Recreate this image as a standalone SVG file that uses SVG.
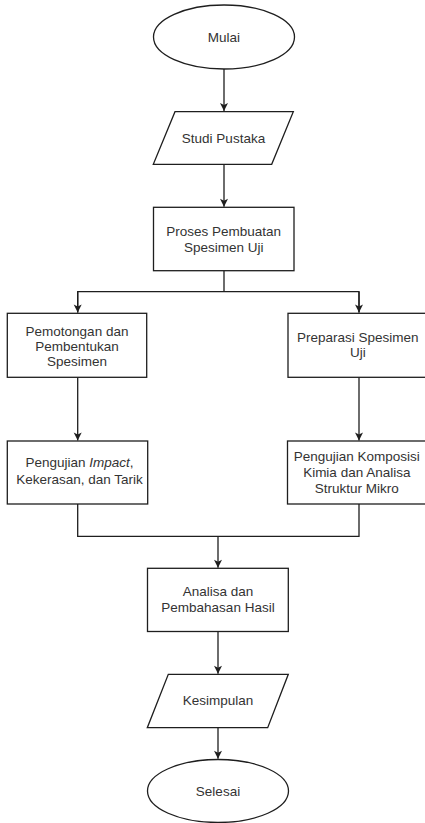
<svg xmlns="http://www.w3.org/2000/svg" width="425" height="823" viewBox="0 0 425 823">
<style>
.s{fill:#ffffff;stroke:#1e1e1e;stroke-width:1.3}
.c{fill:none;stroke:#1e1e1e;stroke-width:1.3}
.t{font-family:"Liberation Sans",Arial,sans-serif;font-size:13.5px;fill:#333333;text-anchor:middle}
</style>
<defs>
<marker id="ah" markerUnits="userSpaceOnUse" markerWidth="10" markerHeight="10" viewBox="0 0 10 10" refX="9" refY="5" orient="auto">
<path d="M1,1 L9,5 L1,9 L3,5 z" fill="#1e1e1e"/>
</marker>
</defs>
<rect width="425" height="823" fill="#ffffff"/>
<g id="connectors">
<line class="c" x1="224" y1="69" x2="224" y2="111" marker-end="url(#ah)"/>
<line class="c" x1="224" y1="164.3" x2="224" y2="206.8" marker-end="url(#ah)"/>
<polyline class="c" points="224,270.7 224,291.7"/>
<polyline class="c" points="77.7,312.5 77.7,291.7 359,291.7 359,312.5"/>
<line class="c" x1="77.7" y1="291.7" x2="77.7" y2="312.6" marker-end="url(#ah)"/>
<line class="c" x1="359" y1="291.7" x2="359" y2="312.6" marker-end="url(#ah)"/>
<line class="c" x1="77.7" y1="377.3" x2="77.7" y2="440.6" marker-end="url(#ah)"/>
<line class="c" x1="359" y1="377.3" x2="359" y2="440.6" marker-end="url(#ah)"/>
<polyline class="c" points="77.7,504 77.7,536.3 359,536.3 359,504"/>
<line class="c" x1="218" y1="536.3" x2="218" y2="567.8" marker-end="url(#ah)"/>
<line class="c" x1="218" y1="631.5" x2="218" y2="673.8" marker-end="url(#ah)"/>
<line class="c" x1="218" y1="727.7" x2="218" y2="758.8" marker-end="url(#ah)"/>
</g>
<g id="mulai">
<ellipse class="s" cx="224" cy="37" rx="70.5" ry="32"/>
<text class="t" x="224" y="41.7">Mulai</text>
</g>
<g id="studi-pustaka">
<polygon class="s" points="175,111.7 293.3,111.7 271.7,164.3 153.3,164.3"/>
<text class="t" x="223.5" y="142.7">Studi Pustaka</text>
</g>
<g id="proses">
<rect class="s" x="153.5" y="207.3" width="140.5" height="63.4"/>
<text class="t" x="223.7" y="236">Proses Pembuatan</text>
<text class="t" x="223.7" y="251.5">Spesimen Uji</text>
</g>
<g id="pemotongan">
<rect class="s" x="7.3" y="313.3" width="139.4" height="64"/>
<text class="t" x="77" y="336.3">Pemotongan dan</text>
<text class="t" x="77" y="351">Pembentukan</text>
<text class="t" x="77" y="365.7">Spesimen</text>
</g>
<g id="preparasi">
<rect class="s" x="288" y="313.3" width="142" height="64"/>
<text class="t" x="357.8" y="341.7">Preparasi Spesimen</text>
<text class="t" x="357.8" y="357.3">Uji</text>
</g>
<g id="pengujian-impact">
<rect class="s" x="7.3" y="441" width="140.4" height="63"/>
<text class="t" x="79.5" y="467.3">Pengujian <tspan font-style="italic">Impact</tspan>,</text>
<text class="t" x="79.5" y="484">Kekerasan, dan Tarik</text>
</g>
<g id="pengujian-komposisi">
<rect class="s" x="287.5" y="441" width="142" height="63"/>
<text class="t" x="356.8" y="460.7">Pengujian Komposisi</text>
<text class="t" x="356.8" y="476.7">Kimia dan Analisa</text>
<text class="t" x="356.8" y="492.7">Struktur Mikro</text>
</g>
<g id="analisa">
<rect class="s" x="147.5" y="568.3" width="140.8" height="63.2"/>
<text class="t" x="218" y="596">Analisa dan</text>
<text class="t" x="218" y="612.3">Pembahasan Hasil</text>
</g>
<g id="kesimpulan">
<polygon class="s" points="168.3,674.3 288.3,674.3 267.7,727.7 147.3,727.7"/>
<text class="t" x="218" y="705.3">Kesimpulan</text>
</g>
<g id="selesai">
<ellipse class="s" cx="218" cy="791" rx="70.5" ry="31.5"/>
<text class="t" x="218" y="795.5">Selesai</text>
</g>
</svg>
